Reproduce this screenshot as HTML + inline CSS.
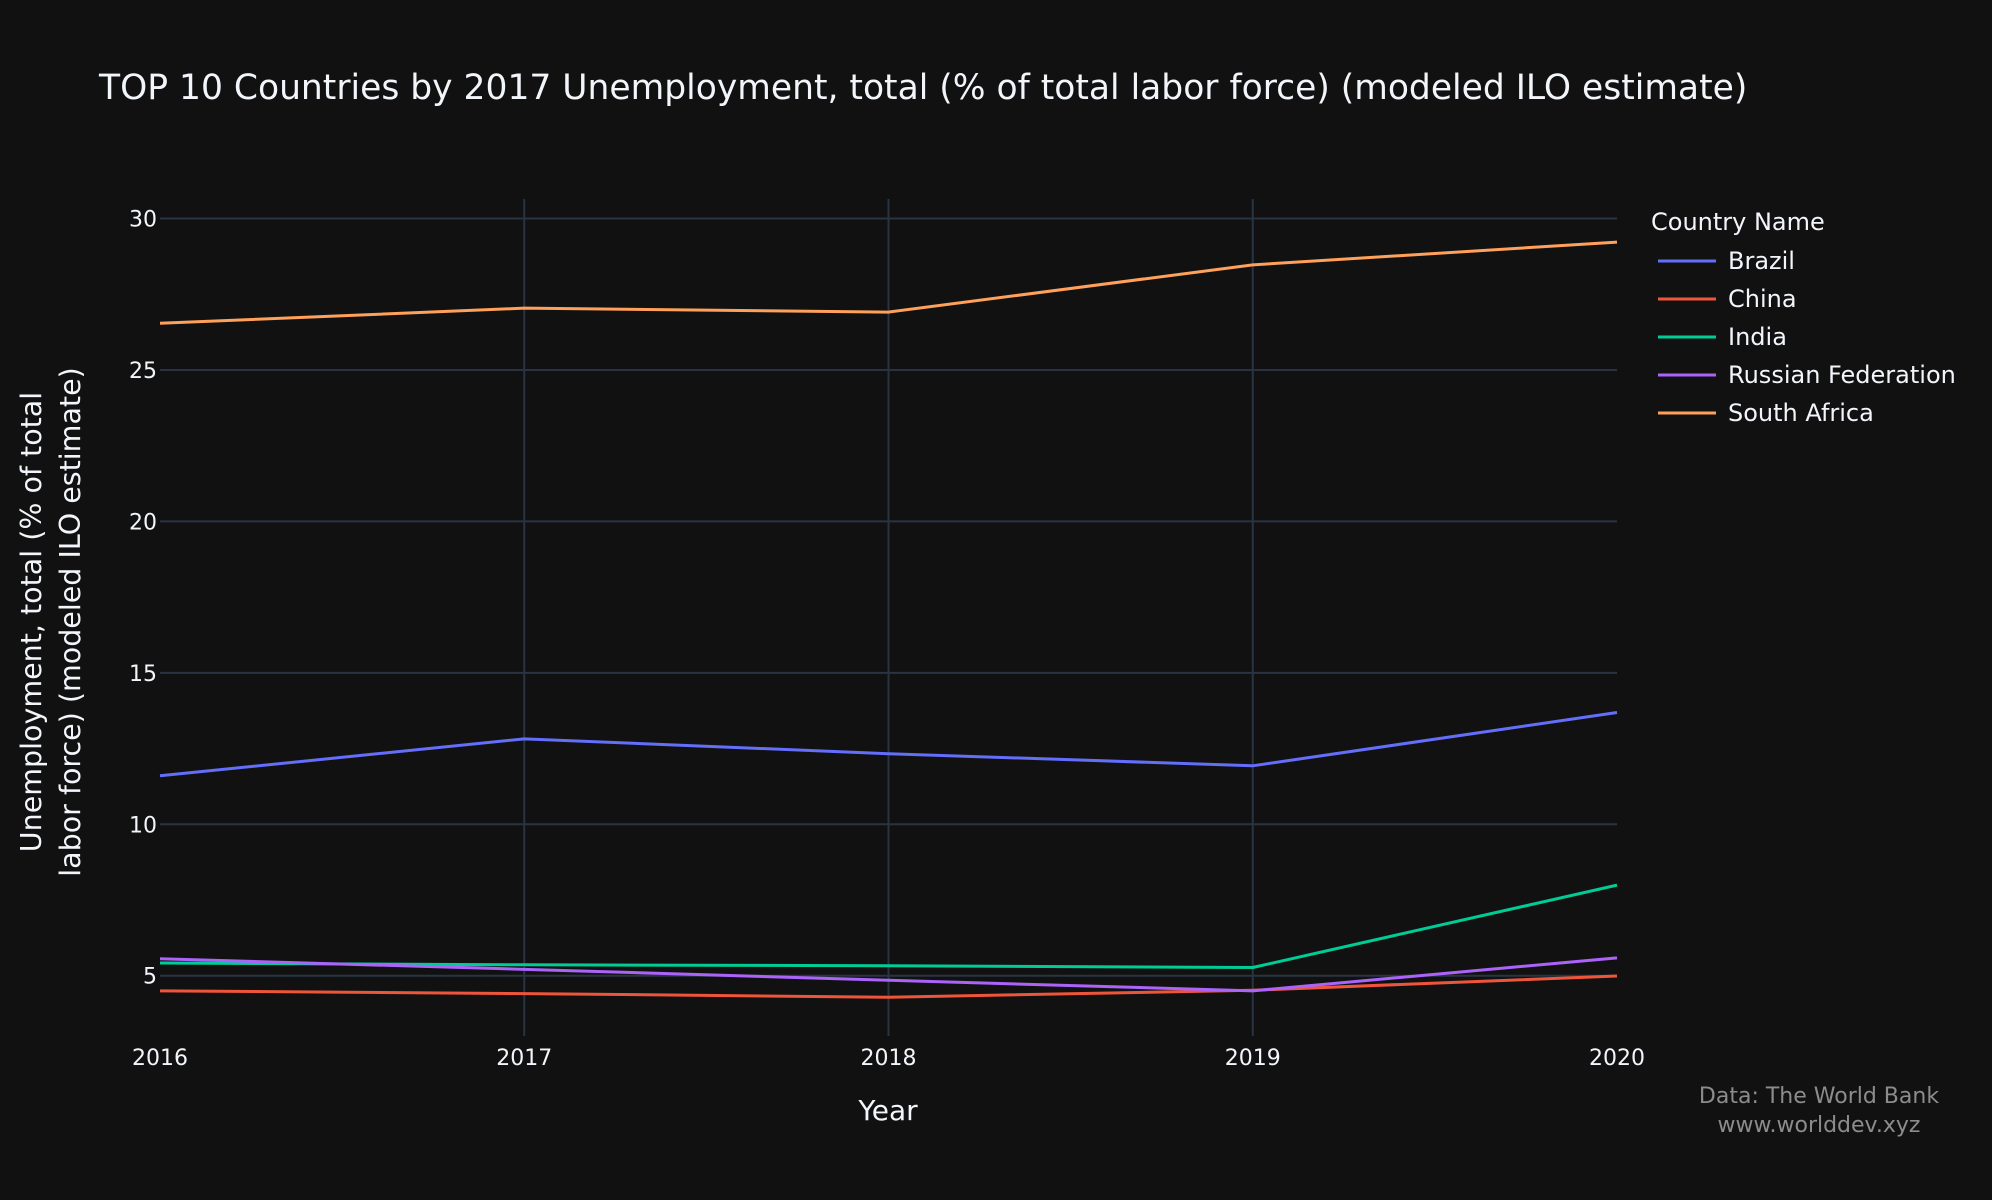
<!DOCTYPE html>
<html><head><meta charset="utf-8"><style>
body{margin:0;background:#111111;}
svg{display:block;font-family:"DejaVu Sans","Liberation Sans",sans-serif;}
</style></head><body>
<svg id="chart" width="1992" height="1200" xmlns="http://www.w3.org/2000/svg">
<rect width="1992" height="1200" fill="#111111"/>
<text x="99" y="99" fill="#f2f5fa" font-size="34.5">TOP 10 Countries by 2017 Unemployment, total (% of total labor force) (modeled ILO estimate)</text>
<g id="grid"></g>
<g id="series"></g>
<g id="legend"></g>
<text x="888" y="1120" fill="#f2f5fa" font-size="28" text-anchor="middle">Year</text>
<text transform="translate(41,622) rotate(-90)" fill="#f2f5fa" font-size="28.5" text-anchor="middle"><tspan x="0" dy="0">Unemployment, total (% of total</tspan><tspan x="0" dy="39">labor force) (modeled ILO estimate)</tspan></text>
<text x="1819" y="1103" fill="#8c8c8c" font-size="22" text-anchor="middle">Data: The World Bank</text>
<text x="1819" y="1132" fill="#8c8c8c" font-size="22" text-anchor="middle">www.worlddev.xyz</text>
</svg>
<script>
const years=[2016,2017,2018,2019,2020];
const yTicks=[5,10,15,20,25,30];
const countries=["Brazil","China","India","Russian Federation","South Africa"];
const colors=["#636efa","#ef553b","#00cc96","#ab63fa","#ffa15a"];
const brazil=[11.6,12.82,12.33,11.93,13.69];
const china=[4.5,4.41,4.29,4.52,4.99];
const india=[5.42,5.36,5.33,5.27,7.99];
const russia=[5.56,5.21,4.85,4.5,5.59];
const southAfrica=[26.54,27.04,26.91,28.47,29.22];
const seriesData=[brazil,china,india,russia,southAfrica];
const NS="http://www.w3.org/2000/svg";
const X0=160,X1=1617,Y5=975.7,Y30=218.5,TOP=199,BOT=1036;
function xs(v){return X0+(v-2016)/(2020-2016)*(X1-X0);}
function ys(v){return Y5+(v-5)/(30-5)*(Y30-Y5);}
function mk(tag,attrs,parent){const e=document.createElementNS(NS,tag);for(const k in attrs)e.setAttribute(k,attrs[k]);parent.appendChild(e);return e;}
const grid=document.getElementById('grid');
yTicks.forEach(t=>{
 const l=mk('line',{x1:X0,x2:X1,y1:ys(t),y2:ys(t),stroke:'#283442','stroke-width':2},grid);
 
 
 const tx=mk('text',{x:X0-3,y:ys(t)+8,fill:'#f2f5fa','font-size':22,'text-anchor':'end'},grid);
 tx.textContent=t;
 
 
});
years.forEach((t,i)=>{
 if(i>0&&i<years.length-1){
 const l=mk('line',{x1:xs(t),x2:xs(t),y1:TOP,y2:BOT,stroke:'#283442','stroke-width':2},grid);
 
 
 }
 const tx=mk('text',{x:xs(t),y:1065,fill:'#f2f5fa','font-size':22,'text-anchor':'middle'},grid);
 tx.textContent=t;
 
 
});
const sg=document.getElementById('series');
seriesData.forEach((d,i)=>{
 const p=mk('polyline',{points:d.map((v,j)=>xs(years[j])+','+ys(v)).join(' '),fill:'none',stroke:colors[i],'stroke-width':3,'stroke-linejoin':'round'},sg);
 
 
});
const lg=document.getElementById('legend');
const lt=mk('text',{x:1651,y:230,fill:'#f2f5fa','font-size':24},lg);
lt.textContent='Country Name';


countries.forEach((c,i)=>{
 const y=261+i*38;
 const g=mk('g',{},lg);
 
 
 mk('line',{x1:1658,x2:1716,y1:y,y2:y,stroke:colors[i],'stroke-width':3},g);
 const t=mk('text',{x:1728,y:y+8,fill:'#f2f5fa','font-size':24},g);
 t.textContent=c;
});
</script>
</body></html>
